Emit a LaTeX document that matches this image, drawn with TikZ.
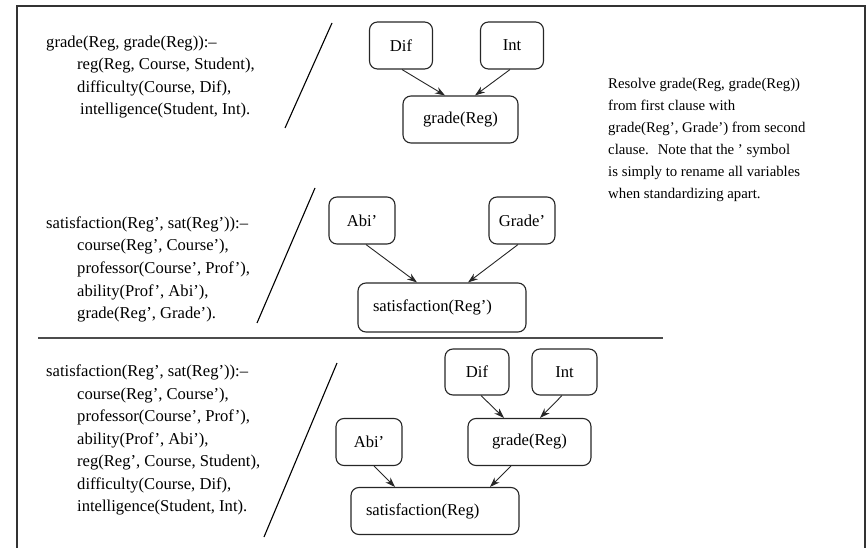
\documentclass[tikz,border=0pt]{standalone}
\usepackage{fontspec}
\setmainfont{Liberation Serif}
\usetikzlibrary{arrows.meta}
\begin{document}
\begin{tikzpicture}[x=1pt, y=-1pt,
  clause/.style={anchor=base west, inner sep=0pt, font=\fontsize{16.6}{20}\selectfont},
  note/.style={anchor=base west, inner sep=0pt, font=\fontsize{14.8}{18}\selectfont},
  box/.style={draw=black!85, rounded corners=8pt, line width=1.1pt, inner sep=0pt,
              minimum height=47pt, font=\fontsize{16.6}{20}\selectfont},
  widebox/.style={box, inner xsep=15pt, text width=138pt, align=left},
  link/.style={draw=black!85, line width=0.9pt, -{Stealth[length=10pt,width=7pt]}},
  stroke/.style={line width=1.1pt},
  frameline/.style={line width=1.5pt, draw=black!80},
  divider/.style={line width=2.6pt, draw=black!70}]
\useasboundingbox (0,0) rectangle (867,548);

% open frame and the divider between the clauses and the resolvent
\draw[frameline] (17,548) -- (17,6) -- (865,6) -- (865,548);
\draw[divider] (38,338) -- (663,338);

% first clause
\node[clause] (c1a) at (46,47.5)  {grade(Reg, grade(Reg)):--};
\node[clause] (c1b) at (77,70)    {reg(Reg, Course, Student),};
\node[clause] (c1c) at (77,92.5)  {difficulty(Course, Dif),};
\node[clause] (c1d) at (80,115)   {intelligence(Student, Int).};
\draw[stroke] (332,23) -- (285,128);

\node[box, minimum width=63pt]  (dif1) at (401,45.5)    {Dif};
\node[box, minimum width=63pt]  (int1) at (512,45.5)    {Int};
\node[box, minimum width=115pt] (grd1) at (460.5,119.5) {grade(Reg)};
\draw[link] ([xshift=1pt]dif1.south)  -- ([xshift=-15.5pt]grd1.north);
\draw[link] ([xshift=-2pt]int1.south) -- ([xshift=14.5pt]grd1.north);

% explanation
\node[note] (n1) at (608,89)  {Resolve grade(Reg, grade(Reg))};
\node[note] (n2) at (608,111) {from first clause with};
\node[note] (n3) at (608,133) {grade(Reg', Grade') from second};
\node[note] (n4) at (608,155) {clause.\hspace{0.6em}Note that the ' symbol};
\node[note] (n5) at (608,177) {is simply to rename all variables};
\node[note] (n6) at (608,199) {when standardizing apart.};

% second clause
\node[clause] (c2a) at (46,228.5) {satisfaction(Reg', sat(Reg')):--};
\node[clause] (c2b) at (77,251)   {course(Reg', Course'),};
\node[clause] (c2c) at (77,273.5) {professor(Course', Prof'),};
\node[clause] (c2d) at (77,296)   {ability(Prof', Abi'),};
\node[clause] (c2e) at (77,318.5) {grade(Reg', Grade').};
\draw[stroke] (315,188) -- (257,323);

\node[box, minimum width=66pt] (abi2) at (362,220.5) {Abi'};
\node[box, minimum width=66pt] (grd2) at (522,220.5) {Grade'};
\node[widebox, minimum height=49pt] (sat2) at (442,307.5) {satisfaction(Reg')};
\draw[link] ([xshift=4pt]abi2.south)  -- ([xshift=-25pt]sat2.north);
\draw[link] ([xshift=-4pt]grd2.south) -- ([xshift=26pt]sat2.north);

% resolvent
\node[clause] (c3a) at (46,376.5) {satisfaction(Reg', sat(Reg')):--};
\node[clause] (c3b) at (77,399)   {course(Reg', Course'),};
\node[clause] (c3c) at (77,421.5) {professor(Course', Prof'),};
\node[clause] (c3d) at (77,444)   {ability(Prof', Abi'),};
\node[clause] (c3e) at (77,466.5) {reg(Reg', Course, Student),};
\node[clause] (c3f) at (77,489)   {difficulty(Course, Dif),};
\node[clause] (c3g) at (77,511.5) {intelligence(Student, Int).};
\draw[stroke] (337,363) -- (264,537);

\node[box, minimum width=64pt, minimum height=46pt]  (dif3) at (477,372) {Dif};
\node[box, minimum width=65pt, minimum height=46pt]  (int3) at (564.5,372) {Int};
\node[box, minimum width=66pt, minimum height=47pt]  (abi3) at (369,442) {Abi'};
\node[box, minimum width=123pt, minimum height=47pt] (grd3) at (529.5,442) {grade(Reg)};
\node[widebox, minimum height=47pt] (sat3) at (435,511) {satisfaction(Reg)};
\draw[link] ([xshift=4pt]dif3.south)   -- ([xshift=-25.5pt]grd3.north);
\draw[link] ([xshift=-2.5pt]int3.south) -- ([xshift=10.5pt]grd3.north);
\draw[link] ([xshift=5pt]abi3.south)    -- ([xshift=-40pt]sat3.north);
\draw[link] ([xshift=-18.5pt]grd3.south) -- ([xshift=55pt]sat3.north);
\end{tikzpicture}
\end{document}
